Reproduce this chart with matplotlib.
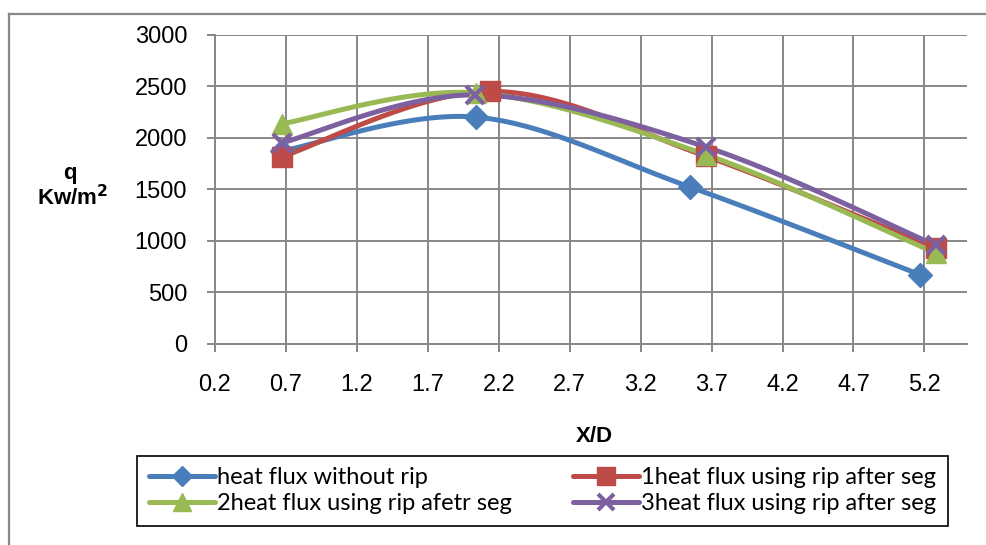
import numpy as np
import matplotlib.pyplot as plt
from matplotlib.lines import Line2D

# Data
x_blue = [0.67, 2.04, 3.55, 5.17]
q_blue = [1870, 2200, 1520, 670]
x_red = [0.67, 2.14, 3.66, 5.28]
q_red = [1815, 2450, 1820, 925]
x_green = [0.67, 2.04, 3.66, 5.28]
q_green = [2135, 2435, 1835, 880]
x_purple = [0.67, 2.03, 3.66, 5.28]
q_purple = [1950, 2415, 1910, 955]

labels = ['heat flux without rip', '1heat flux using rip after seg',
          '2heat flux using rip afetr seg', '3heat flux using rip after seg']
xticks = [0.2, 0.7, 1.2, 1.7, 2.2, 2.7, 3.2, 3.7, 4.2, 4.7, 5.2]
yticks = [0, 500, 1000, 1500, 2000, 2500, 3000]


def smooth(xs, ys, n=40):
    # Excel-like smoothed line (cubic Bezier, Catmull-Rom tangents)
    p = np.column_stack([xs, ys]).astype(float)
    p = np.vstack([p[0], p, p[-1]])
    out = []
    for i in range(1, len(p) - 2):
        p0, p1, p2, p3 = p[i - 1], p[i], p[i + 1], p[i + 2]
        c1 = p1 + (p2 - p0) / 6
        c2 = p2 - (p3 - p1) / 6
        t = np.linspace(0, 1, n)[:, None]
        seg = ((1 - t) ** 3) * p1 + 3 * ((1 - t) ** 2) * t * c1 + 3 * (1 - t) * t ** 2 * c2 + t ** 3 * p2
        out.append(seg)
    s = np.vstack(out)
    return s[:, 0], s[:, 1]


fig = plt.figure(figsize=(9.87, 5.45), dpi=100)
ax = fig.add_axes([215 / 987, 1 - 343.7 / 545, (967 - 215) / 987, (343.7 - 34.7) / 545])

series = [
    (x_blue, q_blue, '#4A7EBB', 'D', 12, 1),
    (x_red, q_red, '#BE4B48', 's', 15, 1),
    (x_green, q_green, '#98B954', '^', 15, 1),
    (x_purple, q_purple, '#7D60A0', 'x', 13, 3),
]
handles = []
for (xs, ys, c, m, ms, mew), lab in zip(series, labels):
    sx, sy = smooth(xs, ys)
    ax.plot(sx, sy, color=c, lw=3.6, solid_capstyle='round', zorder=3)
    ax.plot(xs, ys, ls='none', marker=m, ms=ms, color=c, mec=c, mew=mew, zorder=4)
    handles.append(Line2D([], [], color=c, lw=3.6, marker=m, ms=ms * 0.85,
                          mec=c, mew=mew, solid_capstyle='round'))

ax.set_xlim(0.2, 5.5)
ax.set_ylim(0, 3000)
ax.set_xticks(xticks)
ax.set_yticks(yticks)
ax.set_xticklabels([f'{v:.1f}' for v in xticks])
ax.grid(True, color='#878787', lw=1.4)
ax.set_axisbelow(True)
for s in ['top', 'right']:
    ax.spines[s].set_visible(False)
for s in ['left', 'bottom']:
    ax.spines[s].set_color('#878787')
    ax.spines[s].set_linewidth(1.4)
ax.tick_params(axis='both', colors='#878787', length=6, width=1.4,
               labelsize=17, labelcolor='black')
ax.tick_params(axis='y', pad=14)
ax.tick_params(axis='x', pad=16)
for lbl in ax.get_xticklabels() + ax.get_yticklabels():
    lbl.set_family('Liberation Sans')

fig.text(594 / 987, 1 - 437 / 545, 'X/D', ha='center', va='center',
         fontsize=16, fontweight='bold', family='Liberation Sans')
fig.text(70 / 987, 1 - 174 / 545, 'q', ha='center', va='center',
         fontsize=16, fontweight='bold', family='Liberation Sans')
fig.text(73 / 987, 1 - 198 / 545, 'Kw/m$^{\\mathbf{2}}$', ha='center', va='center',
         fontsize=16, fontweight='bold', family='Liberation Sans')

order = [0, 2, 1, 3]
leg = fig.legend([handles[i] for i in order], [labels[i] for i in order], ncol=2,
                 loc='lower left', mode='expand', borderaxespad=0,
                 bbox_to_anchor=(137 / 987, 1 - 526 / 545, (948 - 137) / 987, (526 - 458) / 545),
                 fancybox=False, edgecolor='black', framealpha=1,
                 prop={'family': 'Lato', 'size': 17}, handlelength=2.8,
                 handletextpad=0.1, labelspacing=0.2, borderpad=0.5)
leg.get_frame().set_linewidth(1.2)

# outer chart-area border (top and left visible)
fig.add_artist(Line2D([9 / 987, 1], [1 - 14 / 545, 1 - 14 / 545], color='#888888', lw=1.6))
fig.add_artist(Line2D([9 / 987, 9 / 987], [0, 1 - 14 / 545], color='#888888', lw=1.6))

fig.savefig('out.png', dpi=100)
